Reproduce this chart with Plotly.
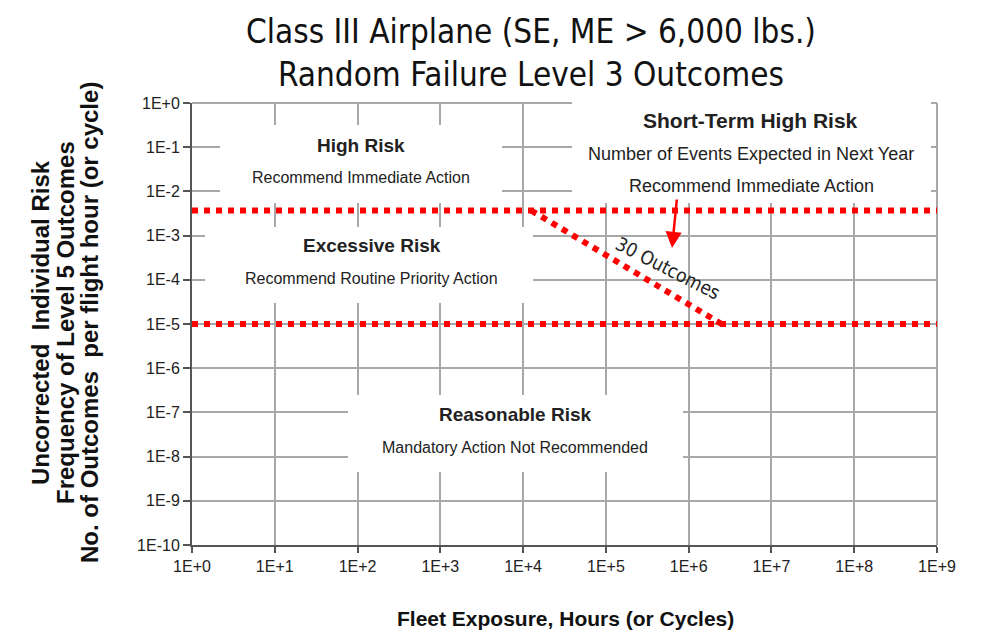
import plotly.graph_objects as go

# ---------------- data ----------------
x_tick_vals = [1e0, 1e1, 1e2, 1e3, 1e4, 1e5, 1e6, 1e7, 1e8, 1e9]
x_tick_text = ["1E+0", "1E+1", "1E+2", "1E+3", "1E+4", "1E+5", "1E+6", "1E+7", "1E+8", "1E+9"]
y_tick_vals = [1e0, 1e-1, 1e-2, 1e-3, 1e-4, 1e-5, 1e-6, 1e-7, 1e-8, 1e-9, 1e-10]
y_tick_text = ["1E+0", "1E-1", "1E-2", "1E-3", "1E-4", "1E-5", "1E-6", "1E-7", "1E-8", "1E-9", "1E-10"]

upper_x = [1e0, 1e9]
upper_y = [3.7e-3, 3.7e-3]
lower_x = [1e0, 1e9]
lower_y = [1e-5, 1e-5]
diag_x = [1.25e4, 2.5e6]          # "30 Outcomes" boundary
diag_y = [3.7e-3, 1e-5]

title_lines = ["Class III Airplane (SE, ME > 6,000 lbs.)", "Random Failure Level 3 Outcomes"]
y_title_lines = ["Uncorrected  Individual Risk", "Frequency of Level 5 Outcomes",
                 "No. of Outcomes  per flight hour (or cycle)"]
x_title = "Fleet Exposure, Hours (or Cycles)"

# ---------------- layout helpers ----------------
# reference pixel geometry of the plot area
L, R, T, B = 192, 937, 103, 545
PAGE_OFF = 8                      # default page margin of the html body
W, H = 987 - PAGE_OFF, 640 - PAGE_OFF


def px(x):
    return (x - L) / (R - L)


def py(y):
    return (B - y) / (B - T)


RED = "#ff0000"
GRID = "#a8a8a8"
fig = go.Figure()
for xs, ys in [(upper_x, upper_y), (lower_x, lower_y), (diag_x, diag_y)]:
    fig.add_trace(go.Scatter(x=xs, y=ys, mode="lines",
                             line=dict(color=RED, width=6, dash="dot"),
                             hoverinfo="skip", showlegend=False))

shapes = [
    dict(type="line", xref="paper", yref="paper", x0=1, x1=1, y0=0, y1=1,
         line=dict(color=GRID, width=2), layer="below"),
    dict(type="line", xref="paper", yref="paper", x0=0, x1=1, y0=1, y1=1,
         line=dict(color=GRID, width=2), layer="below"),
]
# white boxes behind region labels (hide grid)
boxes = [(220, 125, 502, 203), (205, 227, 533, 303), (572, 98, 931, 203), (348, 395, 683, 472)]
for x0, y0, x1, y1 in boxes:
    shapes.append(dict(type="rect", xref="paper", yref="paper",
                       x0=px(x0), x1=px(x1), y0=py(y1), y1=py(y0),
                       fillcolor="white", line=dict(width=0), layer="above"))

ARIAL = "Arial, Liberation Sans, sans-serif"
TXT = "#222222"
ann = []


def label(text, x, y, size, bold=False, color=TXT, family=ARIAL, angle=0):
    t = f"<b>{text}</b>" if bold else text
    ann.append(dict(text=t, xref="paper", yref="paper", x=px(x), y=py(y),
                    xanchor="center", yanchor="middle", showarrow=False,
                    textangle=angle, font=dict(family=family, size=size, color=color)))


label("High Risk", 361, 145, 19, bold=True)
label("Recommend Immediate Action", 361, 177, 16)
label("Excessive Risk", 372, 246, 19, bold=True)
label("Recommend Routine Priority Action", 371, 278, 16)
label("Short-Term High Risk", 750, 121, 21, bold=True)
label("Number of Events Expected in Next Year", 751, 154, 18)
label("Recommend Immediate Action", 751, 186, 18)
label("Reasonable Risk", 515, 414, 19, bold=True)
label("Mandatory Action Not Recommended", 515, 447, 16)
label("30 Outcomes", 668, 268, 19, family="DejaVu Sans Condensed, DejaVu Sans, sans-serif", angle=27)

# arrow
ann.append(dict(text="", xref="paper", yref="paper", x=px(672), y=py(248),
                ax=5, ay=-50, axref="pixel", ayref="pixel", showarrow=True,
                arrowhead=2, arrowsize=1.3, arrowwidth=2.5, arrowcolor=RED))

# title (single two-line text)
TITLE_FONT = "DejaVu Sans Condensed, DejaVu Sans, sans-serif"
label("<br>".join(title_lines), 531, 53, 33, family=TITLE_FONT, color="#111111")

# y-axis title (three lines)
for txt, xc in zip(y_title_lines, [40, 65, 89]):
    label(txt, xc, 323, 24, bold=True, angle=-90, color="#111111")

# x-axis title
label(x_title, 565, 618, 21, bold=True, color="#111111")

fig.update_layout(
    width=W, height=H,
    margin=dict(l=L - PAGE_OFF, r=W - (R - PAGE_OFF), t=T - PAGE_OFF, b=H - (B - PAGE_OFF)),
    paper_bgcolor="white", plot_bgcolor="white",
    shapes=shapes, annotations=ann, showlegend=False,
    xaxis=dict(type="log", range=[0, 9], tickvals=x_tick_vals, ticktext=x_tick_text,
               showgrid=True, gridcolor=GRID, gridwidth=2,
               showline=True, linecolor="#555555", linewidth=2, mirror=False,
               ticks="outside", ticklen=6, tickwidth=2, tickcolor="#555555",
               tickfont=dict(family=ARIAL, size=16, color=TXT), zeroline=False),
    yaxis=dict(type="log", range=[-10, 0], tickvals=y_tick_vals, ticktext=y_tick_text,
               showgrid=True, gridcolor=GRID, gridwidth=2,
               showline=True, linecolor="#555555", linewidth=2, mirror=False,
               ticks="outside", ticklen=7, tickwidth=2, tickcolor="#555555",
               tickfont=dict(family=ARIAL, size=16, color=TXT), zeroline=False),
)

fig.write_html("out.html")
